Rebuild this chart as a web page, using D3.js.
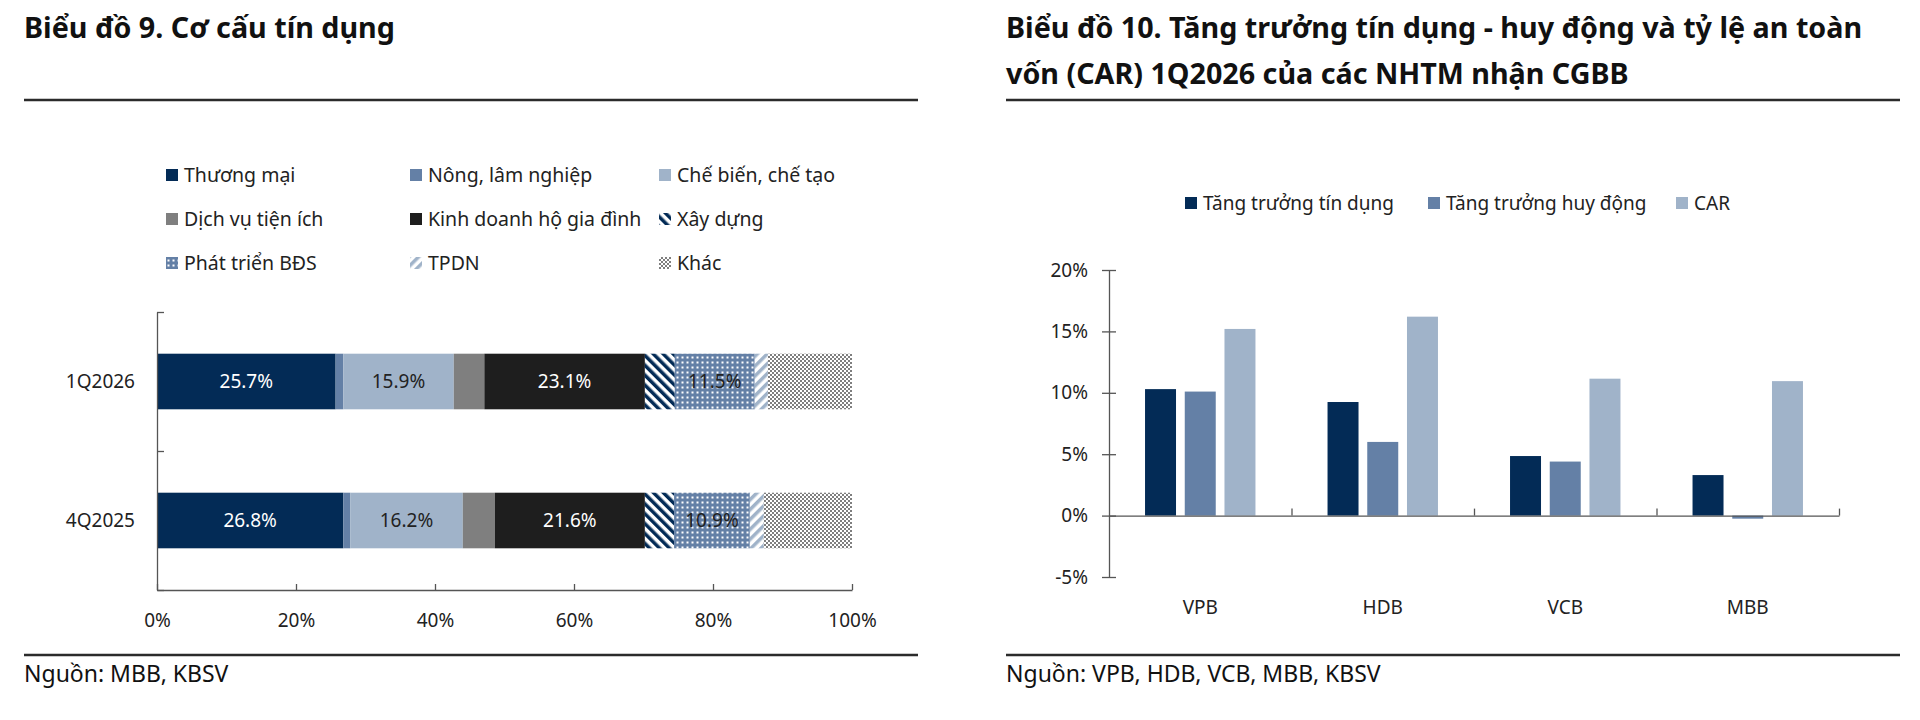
<!DOCTYPE html>
<html><head><meta charset="utf-8">
<script src="https://cdn.jsdelivr.net/npm/d3@7"></script>
<style>
body{margin:0;background:#fff;}
svg text{font-family:"Noto Sans",sans-serif;}
</style>
</head><body>
<svg id="c" width="1920" height="720"></svg>
<script>
// ---------- DATA: chart 9 ----------
const periods = ["1Q2026", "4Q2025"];
const sectors = ["Thương mại", "Nông, lâm nghiệp", "Chế biến, chế tạo", "Dịch vụ tiện ích",
  "Kinh doanh hộ gia đình", "Xây dựng", "Phát triển BĐS", "TPDN", "Khác"];
const share1Q2026 = [25.7, 1.1, 15.9, 4.4, 23.1, 4.3, 11.5, 1.9, 12.1];
const share4Q2025 = [26.8, 1.0, 16.2, 4.6, 21.6, 4.2, 10.9, 2.0, 12.7];
const labeledSectors = ["Thương mại", "Chế biến, chế tạo", "Kinh doanh hộ gia đình", "Phát triển BĐS"];
const shareTicks = [0, 20, 40, 60, 80, 100];

// ---------- DATA: chart 10 ----------
const banks = ["VPB", "HDB", "VCB", "MBB"];
const seriesNames = ["Tăng trưởng tín dụng", "Tăng trưởng huy động", "CAR"];
const creditGrowth = [10.3, 9.25, 4.85, 3.3];
const depositGrowth = [10.1, 6.0, 4.4, -0.25];
const carRatio = [15.2, 16.2, 11.15, 10.95];
const growthTicks = [-5, 0, 5, 10, 15, 20];

// ---------- STYLE ----------
const NAVY = "#032b56", MED = "#6480a6", LIGHT = "#a0b3c9", GRAY = "#7f7f7f", BLACK = "#1e1e1e";
const AXIS = "#555", TXT = "#222";

const svg = d3.select("#c");
const defs = svg.append("defs");

function stripes(id, color, angle) {
  const p = defs.append("pattern").attr("id", id).attr("patternUnits", "userSpaceOnUse")
    .attr("width", 7).attr("height", 7).attr("patternTransform", `rotate(${angle})`);
  p.append("rect").attr("width", 7).attr("height", 7).attr("fill", "#fff");
  p.append("rect").attr("width", 3.5).attr("height", 7).attr("fill", color);
}
stripes("pXD", NAVY, -45);
stripes("pTP", LIGHT, 45);
{
  const p = defs.append("pattern").attr("id", "pBDS").attr("patternUnits", "userSpaceOnUse")
    .attr("width", 5).attr("height", 5);
  p.append("rect").attr("width", 5).attr("height", 5).attr("fill", MED);
  p.append("rect").attr("x", 1.5).attr("y", 1.5).attr("width", 2).attr("height", 2).attr("fill", "#fff");
}
{
  const p = defs.append("pattern").attr("id", "pKH").attr("patternUnits", "userSpaceOnUse")
    .attr("width", 4).attr("height", 4);
  p.append("rect").attr("width", 4).attr("height", 4).attr("fill", "#fff");
  p.append("rect").attr("width", 2).attr("height", 2).attr("fill", GRAY);
  p.append("rect").attr("x", 2).attr("y", 2).attr("width", 2).attr("height", 2).attr("fill", GRAY);
}
const sectorFill = d3.scaleOrdinal().domain(sectors)
  .range([NAVY, MED, LIGHT, GRAY, BLACK, "url(#pXD)", "url(#pBDS)", "url(#pTP)", "url(#pKH)"]);
const sectorLabelColor = d3.scaleOrdinal().domain(sectors)
  .range(["#fff", TXT, TXT, TXT, "#fff", TXT, TXT, TXT, TXT]);

// ---------- Titles / rules / sources ----------
svg.append("text").attr("x", 24).attr("y", 38).attr("font-size", 28.7).attr("font-weight", 700)
  .attr("fill", "#111").text("Biểu đồ 9. Cơ cấu tín dụng");
svg.append("text").attr("x", 1006).attr("y", 38).attr("font-size", 28.7).attr("font-weight", 700)
  .attr("fill", "#111").text("Biểu đồ 10. Tăng trưởng tín dụng - huy động và tỷ lệ an toàn");
svg.append("text").attr("x", 1006).attr("y", 84).attr("font-size", 28.7).attr("font-weight", 700)
  .attr("fill", "#111").text("vốn (CAR) 1Q2026 của các NHTM nhận CGBB");

[[24, 918], [1006, 1900]].forEach(([a, b]) => {
  svg.append("line").attr("x1", a).attr("x2", b).attr("y1", 100).attr("y2", 100)
    .attr("stroke", "#2b2b2b").attr("stroke-width", 2.5);
  svg.append("line").attr("x1", a).attr("x2", b).attr("y1", 655).attr("y2", 655)
    .attr("stroke", "#2b2b2b").attr("stroke-width", 2.5);
});
svg.append("text").attr("x", 24).attr("y", 674).attr("dy", "0.35em").attr("font-size", 23)
  .attr("fill", "#111").text("Nguồn: MBB, KBSV");
svg.append("text").attr("x", 1006).attr("y", 674).attr("dy", "0.35em").attr("font-size", 23)
  .attr("fill", "#111").text("Nguồn: VPB, HDB, VCB, MBB, KBSV");

// ---------- Chart 9 ----------
const rows = periods.map((p, i) => {
  const r = { period: p };
  const vals = i === 0 ? share1Q2026 : share4Q2025;
  sectors.forEach((s, j) => r[s] = vals[j]);
  return r;
});
const stacked = d3.stack().keys(sectors)(rows);

const xL = d3.scaleLinear().domain([0, 100]).range([157, 852]);
const yL = d3.scaleBand().domain(periods).range([312, 590]).paddingInner(0.6).paddingOuter(0.3);

const g9 = svg.append("g");
stacked.forEach(layer => {
  g9.append("g").selectAll("rect").data(layer).join("rect")
    .attr("x", d => xL(d[0])).attr("width", d => xL(d[1]) - xL(d[0]))
    .attr("y", d => yL(d.data.period)).attr("height", yL.bandwidth())
    .attr("fill", sectorFill(layer.key));
  if (labeledSectors.includes(layer.key)) {
    g9.append("g").selectAll("text").data(layer).join("text")
      .attr("x", d => xL((d[0] + d[1]) / 2)).attr("y", d => yL(d.data.period) + yL.bandwidth() / 2)
      .attr("dy", "0.35em").attr("text-anchor", "middle").attr("font-size", 19)
      .attr("fill", sectorLabelColor(layer.key))
      .text(d => d.data[layer.key].toFixed(1) + "%");
  }
});

// x axis (ticks upward)
const xAxisL = svg.append("g").attr("transform", "translate(0,590)")
  .call(d3.axisBottom(xL).tickValues(shareTicks).tickFormat(d => d + "%").tickSizeInner(-6).tickSizeOuter(0));
xAxisL.select(".domain").attr("stroke", AXIS).attr("stroke-width", 1.3);
xAxisL.selectAll(".tick line").attr("stroke", AXIS).attr("stroke-width", 1.3);
xAxisL.selectAll("text").attr("y", 30).attr("dy", "0.35em").attr("font-size", 19).attr("fill", TXT)
  .style("font-family", '"Noto Sans",sans-serif');

// y axis: line with boundary ticks pointing inward
const yBound = d3.scaleLinear().domain([0, periods.length]).range([312, 590]);
const yAxisL = svg.append("g").attr("transform", "translate(157,0)")
  .call(d3.axisRight(yBound).tickValues(d3.range(periods.length + 1)).tickFormat("").tickSizeInner(7).tickSizeOuter(0));
yAxisL.select(".domain").attr("stroke", AXIS).attr("stroke-width", 1.3);
yAxisL.selectAll(".tick line").attr("stroke", AXIS).attr("stroke-width", 1.3);
const yLabL = svg.append("g").attr("transform", "translate(157,0)")
  .call(d3.axisLeft(yL).tickSize(0).tickPadding(22));
yLabL.select(".domain").remove();
yLabL.selectAll("text").attr("font-size", 19).attr("fill", TXT).style("font-family", '"Noto Sans",sans-serif');

// legend 9
const legCols = [166, 410, 659], legRows = [175, 219, 263];
const leg9 = svg.append("g").selectAll("g").data(sectors).join("g")
  .attr("transform", (d, i) => `translate(${legCols[i % 3]},${legRows[Math.floor(i / 3)]})`);
leg9.append("rect").attr("x", 0).attr("y", -6).attr("width", 12).attr("height", 12).attr("fill", d => sectorFill(d));
leg9.append("text").attr("x", 18).attr("dy", "0.35em").attr("font-size", 19.5).attr("fill", TXT).text(d => d);

// ---------- Chart 10 ----------
const seriesValues = [creditGrowth, depositGrowth, carRatio];
const seriesColor = d3.scaleOrdinal().domain(seriesNames).range([NAVY, MED, LIGHT]);
const x0 = d3.scaleBand().domain(banks).range([1109, 1839]).paddingInner(0.347).paddingOuter(0.1735);
const x1 = d3.scaleBand().domain(seriesNames).range([0, x0.bandwidth()]).paddingInner(0.22).paddingOuter(0.11);
const yR = d3.scaleLinear().domain([-5, 20]).range([577, 270]);

const g10 = svg.append("g");
seriesNames.forEach((s, si) => {
  g10.append("g").selectAll("rect").data(banks).join("rect")
    .attr("x", b => x0(b) + x1(s)).attr("width", x1.bandwidth())
    .attr("y", (b, i) => yR(Math.max(0, seriesValues[si][i])))
    .attr("height", (b, i) => Math.abs(yR(seriesValues[si][i]) - yR(0)))
    .attr("fill", seriesColor(s));
});

// y axis with crossing ticks
const yAxisR = svg.append("g").attr("transform", "translate(1109,0)")
  .call(d3.axisLeft(yR).tickValues(growthTicks).tickFormat(d => d + "%").tickSizeInner(7).tickSizeOuter(0).tickPadding(14));
yAxisR.select(".domain").attr("stroke", AXIS).attr("stroke-width", 1.3);
yAxisR.selectAll(".tick line").attr("x1", 7).attr("stroke", AXIS).attr("stroke-width", 1.3);
yAxisR.selectAll("text").attr("font-size", 19).attr("fill", TXT).style("font-family", '"Noto Sans",sans-serif');

// category axis at zero, boundary ticks upward
const xBound = d3.scaleLinear().domain([0, banks.length]).range([1109, 1839]);
const xAxisR = svg.append("g").attr("transform", `translate(0,${yR(0)})`)
  .call(d3.axisBottom(xBound).tickValues(d3.range(1, banks.length + 1)).tickFormat("").tickSizeInner(-7).tickSizeOuter(0));
xAxisR.select(".domain").attr("stroke", AXIS).attr("stroke-width", 1.3);
xAxisR.selectAll(".tick line").attr("stroke", AXIS).attr("stroke-width", 1.3);
svg.append("g").selectAll("text").data(banks).join("text")
  .attr("x", b => x0(b) + x0.bandwidth() / 2).attr("y", 607).attr("dy", "0.35em")
  .attr("text-anchor", "middle").attr("font-size", 19).attr("fill", TXT).text(b => b);

// legend 10
const leg10X = [1185, 1428, 1676];
const leg10 = svg.append("g").selectAll("g").data(seriesNames).join("g")
  .attr("transform", (d, i) => `translate(${leg10X[i]},203)`);
leg10.append("rect").attr("y", -6).attr("width", 12).attr("height", 12).attr("fill", d => seriesColor(d));
leg10.append("text").attr("x", 18).attr("dy", "0.35em").attr("font-size", 19).attr("fill", TXT).text(d => d);
</script>
</body></html>
